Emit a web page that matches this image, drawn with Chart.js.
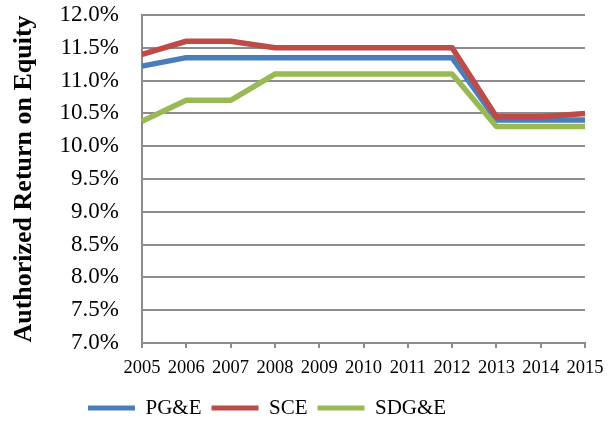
<!DOCTYPE html>
<html>
<head>
<meta charset="utf-8">
<script src="https://cdn.jsdelivr.net/npm/chart.js@4/dist/chart.umd.min.js"></script>
<style>
  html, body { margin: 0; padding: 0; background: #fff; }
  #wrap { width: 613px; height: 421px; }
</style>
</head>
<body>
<div id="wrap"><canvas id="roeChart" width="613" height="421"></canvas></div>
<script>
const years = ['2005', '2006', '2007', '2008', '2009', '2010', '2011', '2012', '2013', '2014', '2015'];
const pgeValues = [11.22, 11.35, 11.35, 11.35, 11.35, 11.35, 11.35, 11.35, 10.40, 10.40, 10.40];
const sceValues = [11.40, 11.60, 11.60, 11.50, 11.50, 11.50, 11.50, 11.50, 10.45, 10.45, 10.50];
const sdgeValues = [10.38, 10.70, 10.70, 11.10, 11.10, 11.10, 11.10, 11.10, 10.30, 10.30, 10.30];
const yMin = 7.0;
const yMax = 12.0;
const yStep = 0.5;

const serif = '"Liberation Serif", "DejaVu Serif", serif';

// move the legend row to where the original sits
const legendPlacer = {
  id: 'legendPlacer',
  afterLayout(chart) {
    const legend = chart.legend;
    if (!legend) return;
    const pad = legend.options.labels.padding;
    const rowWidth = legend.lineWidths[0];
    const start = (legend.left + pad + legend.right - rowWidth) / 2;
    const dx = 88 - start;
    const dy = (408 - 10.5 - pad) - legend.top;
    legend.left += dx;
    legend.right += dx;
    legend.top += dy;
    legend.bottom += dy;
  }
};

const canvas = document.getElementById('roeChart');
new Chart(canvas, {
  type: 'line',
  data: {
    labels: years,
    datasets: [
      { label: 'PG&E', data: pgeValues, borderColor: '#4a7ebb', backgroundColor: '#4a7ebb', order: 3 },
      { label: 'SCE', data: sceValues, borderColor: '#be4b48', backgroundColor: '#be4b48', order: 2 },
      { label: 'SDG&E', data: sdgeValues, borderColor: '#98b954', backgroundColor: '#98b954', order: 1 }
    ]
  },
  options: {
    responsive: false,
    animation: false,
    devicePixelRatio: 1,
    layout: { padding: { top: 15, right: 28, bottom: 0, left: 0 } },
    elements: {
      line: { borderWidth: 5.5, tension: 0, borderJoinStyle: 'round' },
      point: { radius: 0, hoverRadius: 0, borderWidth: 5, pointStyle: 'line' }
    },
    plugins: {
      tooltip: { enabled: false },
      legend: {
        position: 'bottom',
        labels: {
          usePointStyle: true,
          pointStyle: 'line',
          pointStyleWidth: 47,
          padding: 10,
          color: '#000',
          font: { family: serif, size: 21 },
          sort: (a, b) => a.datasetIndex - b.datasetIndex
        }
      }
    },
    scales: {
      x: {
        offset: false,
        grid: { display: true, drawOnChartArea: false, drawTicks: true, tickLength: 5, color: '#8c8c8c', lineWidth: 2 },
        border: { display: true, color: '#8c8c8c', width: 2 },
        ticks: {
          autoSkip: false,
          maxRotation: 0,
          padding: 9,
          color: '#000',
          font: { family: serif, size: 18.5 }
        },
        afterFit(scale) {
          const legendHeight = scale.chart.legend ? scale.chart.legend.height : 0;
          scale.height = 421 - 343 - legendHeight;
        }
      },
      y: {
        min: yMin,
        max: yMax,
        grid: { color: '#8c8c8c', lineWidth: 2, drawTicks: true, tickLength: 22, tickColor: 'rgba(0,0,0,0)' },
        border: { display: true, color: '#8c8c8c', width: 2 },
        ticks: {
          stepSize: yStep,
          padding: 1,
          color: '#000',
          font: { family: serif, size: 23 },
          callback: (value) => Number(value).toFixed(1) + '%'
        },
        title: {
          display: true,
          text: 'Authorized Return on Equity',
          color: '#000',
          padding: { top: 9, bottom: 0 },
          font: { family: serif, size: 26, weight: 'bold' }
        },
        afterFit(scale) {
          scale.width = 142;
        }
      }
    }
  },
  plugins: [legendPlacer]
});
</script>
</body>
</html>
